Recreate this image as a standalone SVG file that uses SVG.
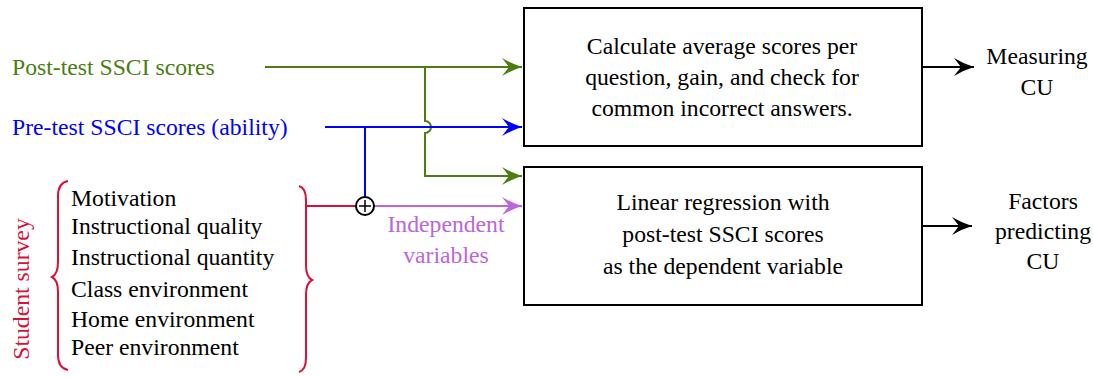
<svg xmlns="http://www.w3.org/2000/svg" width="1093" height="377" viewBox="0 0 1093 377">
  <style>
    text { font-family: "Liberation Serif", "Times New Roman", serif; font-size: 23.7px; }
    .box { fill: #ffffff; stroke: #000000; stroke-width: 2; }
    .c { text-anchor: middle; }
    .wire { fill: none; stroke-width: 2; }
    .green { stroke: #4a7d12; }
    .blue { stroke: #0000ff; }
    .red { stroke: #d9103a; }
    .purple { stroke: #bb66dd; }
    .black { stroke: #000000; }
  </style>
  <defs>
    <marker id="ah-green" markerUnits="userSpaceOnUse" markerWidth="24" markerHeight="24" viewBox="-22 -12 24 24" refX="0" refY="0" orient="auto">
      <path d="M0,0 Q-10,-3 -20,-9 L-13,0 L-20,9 Q-10,3 0,0 Z" fill="#4a7d12"/>
    </marker>
    <marker id="ah-blue" markerUnits="userSpaceOnUse" markerWidth="24" markerHeight="24" viewBox="-22 -12 24 24" refX="0" refY="0" orient="auto">
      <path d="M0,0 Q-10,-3 -20,-9 L-13,0 L-20,9 Q-10,3 0,0 Z" fill="#0000ff"/>
    </marker>
    <marker id="ah-purple" markerUnits="userSpaceOnUse" markerWidth="24" markerHeight="24" viewBox="-22 -12 24 24" refX="0" refY="0" orient="auto">
      <path d="M0,0 Q-10,-3 -20,-9 L-13,0 L-20,9 Q-10,3 0,0 Z" fill="#bb66dd"/>
    </marker>
    <marker id="ah-black" markerUnits="userSpaceOnUse" markerWidth="24" markerHeight="24" viewBox="-22 -12 24 24" refX="0" refY="0" orient="auto">
      <path d="M0,0 Q-10,-3 -20,-9 L-13,0 L-20,9 Q-10,3 0,0 Z" fill="#000000"/>
    </marker>
  </defs>

  <!-- input labels -->
  <g id="post-test">
    <text x="12" y="75" fill="#4a7d12">Post-test SSCI scores</text>
  </g>
  <g id="pre-test">
    <text x="12" y="135" fill="#0000ff">Pre-test SSCI scores (ability)</text>
  </g>

  <!-- survey block -->
  <g id="student-survey">
    <text transform="translate(29,289) rotate(-90)" class="c" fill="#d9103a">Student survey</text>
    <path class="wire red" d="M68,181 Q58,183 58,196 L58,262 Q58,274 52,277 Q58,280 58,292 L58,355 Q58,368 68,370"/>
    <path class="wire red" d="M299,186 Q306,188 306,200 L306,265 Q306,277 312,280 Q306,283 306,295 L306,358 Q306,370 299,372"/>
    <text x="71" y="206" fill="#000">Motivation</text>
    <text x="71" y="234" fill="#000">Instructional quality</text>
    <text x="71" y="265" fill="#000">Instructional quantity</text>
    <text x="71" y="297" fill="#000">Class environment</text>
    <text x="71" y="327" fill="#000">Home environment</text>
    <text x="71" y="355" fill="#000">Peer environment</text>
  </g>

  <!-- processing boxes -->
  <g id="analysis-box">
    <rect class="box" x="524" y="8" width="398" height="138"/>
    <text x="722" y="54" class="c">Calculate average scores per</text>
    <text x="722" y="85" class="c">question, gain, and check for</text>
    <text x="722" y="116" class="c">common incorrect answers.</text>
  </g>
  <g id="regression-box">
    <rect class="box" x="524" y="167" width="398" height="138"/>
    <text x="723" y="210" class="c">Linear regression with</text>
    <text x="723" y="242" class="c">post-test SSCI scores</text>
    <text x="723" y="274" class="c">as the dependent variable</text>
  </g>

  <!-- outputs -->
  <g id="measuring-cu">
    <text x="1037" y="64" class="c">Measuring</text>
    <text x="1037" y="95" class="c">CU</text>
  </g>
  <g id="factors-cu">
    <text x="1043" y="209" class="c">Factors</text>
    <text x="1043" y="239" class="c">predicting</text>
    <text x="1043" y="269" class="c">CU</text>
  </g>

  <!-- connectors -->
  <g id="connectors">
    <path class="wire green" d="M265,67 L522,67" marker-end="url(#ah-green)"/>
    <path class="wire green" d="M425,67 L425,121 A6,6 0 0 1 425,133 L425,176 L522,176" marker-end="url(#ah-green)"/>
    <path class="wire blue" d="M325,127 L522,127" marker-end="url(#ah-blue)"/>
    <path class="wire blue" d="M365,127 L365,197"/>
    <path class="wire red" d="M306,206 L356,206"/>
    <path class="wire purple" d="M374,206 L522,206" marker-end="url(#ah-purple)"/>
    <g id="sum-junction">
      <circle cx="365" cy="206" r="9" fill="#fff" stroke="#000" stroke-width="2"/>
      <path d="M359,206 H371 M365,200 V212" stroke="#000" stroke-width="1.5"/>
    </g>
    <text x="446" y="232" class="c" fill="#bb66dd">Independent</text>
    <text x="446" y="263" class="c" fill="#bb66dd">variables</text>
    <path class="wire black" d="M922,67 L974,67" marker-end="url(#ah-black)"/>
    <path class="wire black" d="M922,226 L972,226" marker-end="url(#ah-black)"/>
  </g>
</svg>
